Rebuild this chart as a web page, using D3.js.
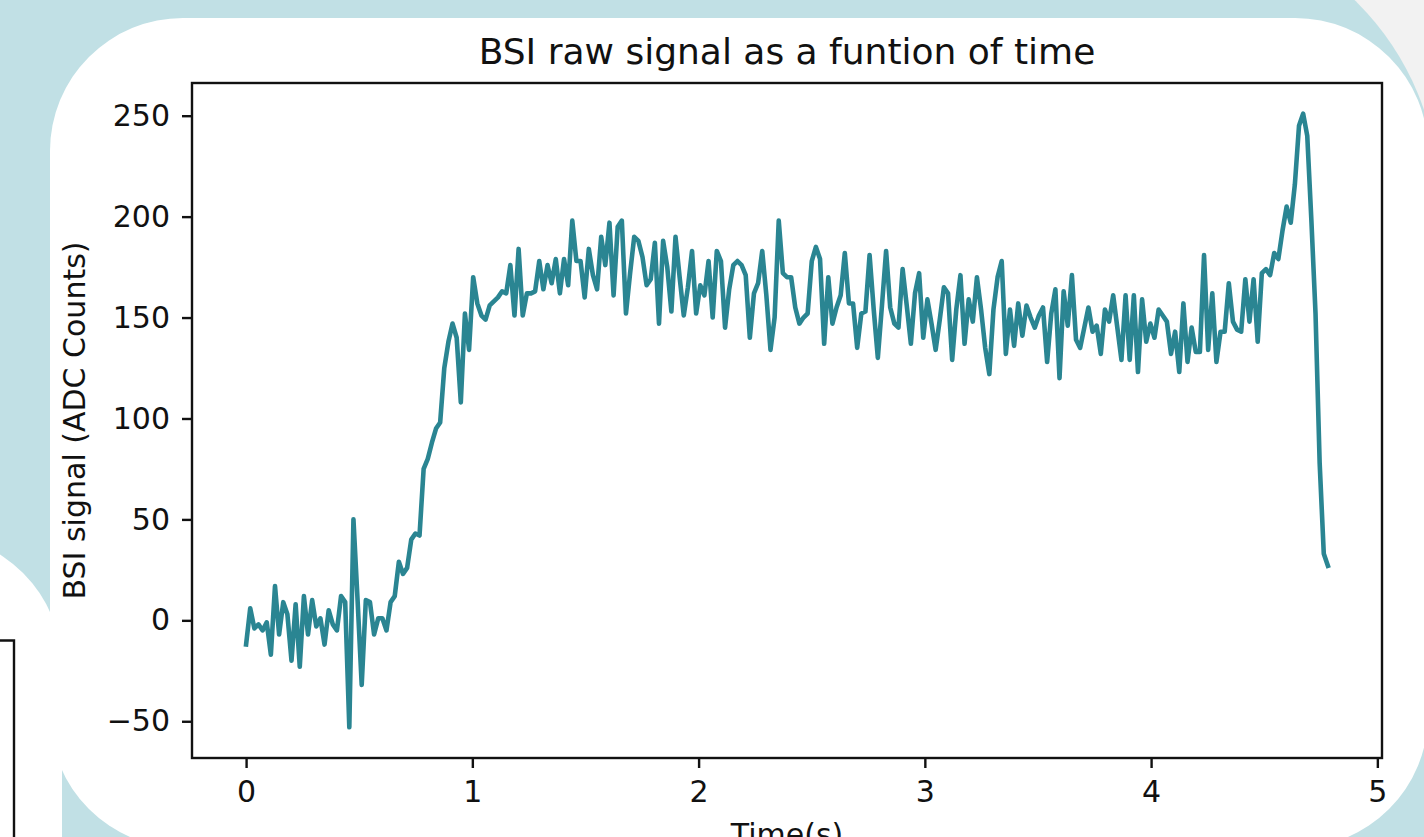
<!DOCTYPE html>
<html>
<head>
<meta charset="utf-8">
<script src="https://cdn.jsdelivr.net/npm/d3@7"></script>
<style>
  html, body { margin: 0; padding: 0; overflow: hidden; background: #f2f2f2; }
  svg { display: block; font-family: "DejaVu Sans", sans-serif; }
</style>
</head>
<body>
<svg id="canvas" width="1424" height="837"></svg>
<script>
// BSI raw ADC samples, one every sampleInterval seconds
let sampleInterval = 0.01825

let bsiSignal = [
  -12, 6, -4, -2, -5, -1, -17, 17, -7, 9, 3, -20, 8, -23, 12, -7, 10, -3, 1, -12,
  5, -2, -5, 12, 9, -53, 50, 10, -32, 10, 9, -7, 1, 1, -5, 9, 12, 29, 23, 26,
  40, 43, 42, 75, 80, 88, 95, 98, 125, 138, 147, 140, 108, 152, 134, 170, 157, 151, 149, 156,
  158, 160, 163, 162, 176, 151, 184, 151, 162, 162, 163, 178, 164, 176, 167, 179, 162, 179, 166, 198,
  178, 178, 160, 184, 171, 164, 190, 176, 197, 161, 195, 198, 152, 172, 190, 188, 180, 166, 169, 187,
  147, 188, 175, 153, 190, 170, 151, 165, 183, 152, 166, 161, 178, 150, 183, 178, 145, 164, 176, 178,
  176, 171, 140, 162, 167, 183, 161, 134, 150, 198, 172, 170, 170, 155, 147, 150, 152, 178, 185, 179,
  137, 170, 147, 155, 161, 182, 157, 157, 135, 152, 153, 181, 154, 130, 156, 183, 155, 147, 145, 174,
  156, 137, 162, 172, 140, 159, 147, 134, 149, 165, 162, 129, 154, 171, 137, 159, 148, 170, 154, 135,
  122, 154, 170, 178, 132, 154, 136, 157, 141, 156, 150, 145, 151, 155, 128, 152, 164, 120, 163, 146,
  171, 139, 135, 145, 155, 143, 146, 132, 154, 148, 161, 145, 129, 161, 129, 161, 123, 159, 138, 147,
  140, 154, 151, 148, 132, 143, 123, 157, 128, 145, 133, 133, 181, 134, 162, 128, 143, 143, 167, 148,
  144, 143, 169, 148, 169, 138, 172, 174, 171, 182, 179, 193, 205, 197, 216, 245, 251, 240, 198, 152,
  78, 33, 27
]

let xTicks = [0, 1, 2, 3, 4, 5]
let yTicks = [-50, 0, 50, 100, 150, 200, 250]

let chartTitle = 'BSI raw signal as a funtion of time'
let xLabel = 'Time(s)'
let yLabel = 'BSI signal (ADC Counts)'

let canvas = d3.select('#canvas')

// page backdrop: blue panel, a card peeking in from the left, the main card
canvas.append('rect')
  .attr('x', -400).attr('y', -79)
  .attr('width', 1839).attr('height', 1300)
  .attr('rx', 279)
  .attr('fill', '#c1e0e5')

canvas.append('rect')
  .attr('x', -400).attr('y', 534)
  .attr('width', 462).attr('height', 500)
  .attr('rx', 133)
  .attr('fill', 'white')

canvas.append('path')
  .attr('d', 'M-20,640.5 H14 V860')
  .attr('fill', 'none')
  .attr('stroke', '#111')
  .attr('stroke-width', 2.4)

canvas.append('rect')
  .attr('x', 50).attr('y', 18)
  .attr('width', 1378).attr('height', 830)
  .attr('rx', 133)
  .attr('fill', 'white')

let margin = {left: 192, top: 83, right: 1382, bottom: 758}

let points = bsiSignal.map((v, i) => {
  return {t: i * sampleInterval, v: v}
})

let pad = (ext) => {
  let d = (ext[1] - ext[0]) * 0.05
  return [ext[0] - d, ext[1] + d]
}

let xScale = d3.scaleLinear()
  .domain(pad(d3.extent(points, (p) => p.t)))
  .range([margin.left, margin.right])

let yScale = d3.scaleLinear()
  .domain(pad(d3.extent(points, (p) => p.v)))
  .range([margin.bottom, margin.top])

let line = d3.line()
  .x((p) => xScale(p.t))
  .y((p) => yScale(p.v))

canvas.append('path')
  .datum(points)
  .attr('d', line)
  .attr('fill', 'none')
  .attr('stroke', '#2a8592')
  .attr('stroke-width', 4.6)
  .attr('stroke-linejoin', 'round')
  .attr('stroke-linecap', 'square')

let xAxis = d3.axisBottom(xScale)
  .tickValues(xTicks)
  .tickFormat(d3.format('d'))
  .tickSizeInner(10)
  .tickSizeOuter(0)
  .tickPadding(13)

let yAxis = d3.axisLeft(yScale)
  .tickValues(yTicks)
  .tickFormat(d3.format('d'))
  .tickSizeInner(10)
  .tickSizeOuter(0)
  .tickPadding(12)

let styleAxis = (g) => {
  g.select('.domain').remove()
  g.selectAll('.tick line').attr('stroke', '#111').attr('stroke-width', 2.4)
  g.selectAll('.tick text')
    .attr('fill', '#111')
    .style('font-size', '30px')
    .style('font-family', '"DejaVu Sans", sans-serif')
}

canvas.append('g')
  .attr('transform', 'translate(0,' + margin.bottom + ')')
  .call(xAxis)
  .call(styleAxis)

canvas.append('g')
  .attr('transform', 'translate(' + margin.left + ',0)')
  .call(yAxis)
  .call(styleAxis)

// axes frame
canvas.append('rect')
  .attr('x', margin.left)
  .attr('y', margin.top)
  .attr('width', margin.right - margin.left)
  .attr('height', margin.bottom - margin.top)
  .attr('fill', 'none')
  .attr('stroke', '#111')
  .attr('stroke-width', 2.4)

canvas.append('text')
  .text(chartTitle)
  .attr('x', (margin.left + margin.right) / 2)
  .attr('y', 64)
  .attr('text-anchor', 'middle')
  .attr('fill', '#111')
  .style('font-size', '36px')

// the x label sits partly below the window edge, as in the screenshot
canvas.append('text')
  .text(xLabel)
  .attr('x', (margin.left + margin.right) / 2)
  .attr('y', 845)
  .attr('text-anchor', 'middle')
  .attr('fill', '#111')
  .style('font-size', '30px')

canvas.append('text')
  .text(yLabel)
  .attr('transform', 'translate(85,' + (margin.top + margin.bottom) / 2 + ') rotate(-90)')
  .attr('text-anchor', 'middle')
  .attr('fill', '#111')
  .style('font-size', '30px')
</script>
</body>
</html>
